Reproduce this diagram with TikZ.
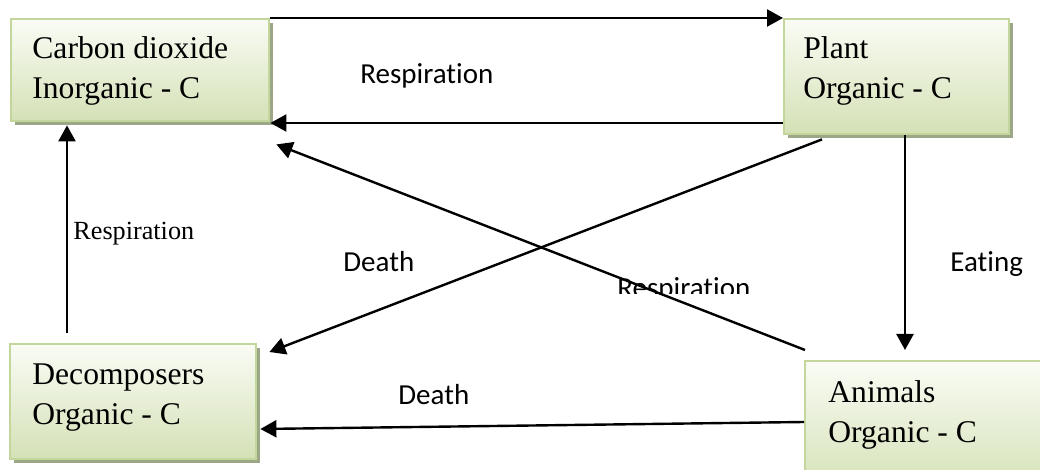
\documentclass[tikz,border=0pt]{standalone}
\usepackage{fontspec}
\setmainfont{Liberation Serif}
\newfontfamily\labelfont[Ligatures=NoCommon]{Carlito}
\usetikzlibrary{arrows.meta,shadows,calc}

\definecolor{boxtop}{HTML}{FAFCF5}
\definecolor{boxbottom}{HTML}{D4E1B6}
\definecolor{boxline}{HTML}{C3D69B}
\definecolor{boxshadow}{HTML}{9CA787}

\tikzset{
  box/.style={rectangle, draw=boxline, line width=1.2pt, inner sep=0pt,
    top color=boxtop, bottom color=boxbottom,
    drop shadow={shadow xshift=2pt, shadow yshift=-2pt, fill=boxshadow, opacity=1}},
  boxtext/.style={anchor=north west, inner sep=0pt, align=left,
    font=\fontsize{15.8}{20}\selectfont},
  flow/.style={line width=1.2pt, -{Triangle[length=8pt,width=8.5pt]}},
  tag/.style={anchor=base west, inner sep=0pt, font=\labelfont\fontsize{14.5}{17}\selectfont},
  serifTag/.style={anchor=base west, inner sep=0pt, font=\fontsize{13.1}{16}\selectfont}
}

\begin{document}
\begin{tikzpicture}[x=0.5pt,y=-0.5pt]
  \clip (0,0) rectangle (1040,470);
  \fill[white] (0,0) rectangle (1040,470);

  % the four carbon pools
  \node[box, anchor=north west, minimum width=129pt, minimum height=51pt] (co2) at (10,18) {};
  \node[box, anchor=north west, minimum width=112.5pt, minimum height=57.5pt] (plant) at (783,18) {};
  \node[box, anchor=north west, minimum width=123pt, minimum height=57.5pt] (dec) at (9,343) {};
  \node[box, anchor=north west, minimum width=130pt, minimum height=65pt] (anim) at (804,360) {};

  \node[boxtext] (co2t) at ($(co2.north west)+(22,18.4)$) {Carbon dioxide\\Inorganic - C};
  \node[boxtext] (plantt) at ($(plant.north west)+(20,18.4)$) {Plant\\Organic - C};
  \node[boxtext] (dect) at ($(dec.north west)+(23,20.4)$) {Decomposers\\Organic - C};
  \node[boxtext] (animt) at ($(anim.north west)+(24,20.4)$) {Animals\\Organic - C};

  % carbon flows
  \draw[flow] (co2.north east) -- (plant.north west);
  \draw[flow] (plant.west |- 0,123) -- (co2.east |- 0,123);
  \draw[flow] ($(plant.south west)+(39,4)$) -- ($(dec.north east)+(12,9)$);
  \draw[flow] ($(anim.north west)+(1,-10)$) -- ($(co2.south east)+(6,22)$);
  \draw[flow] (905,0 |- plant.south) -- ($(905,0 |- anim.north)+(0,-10)$);
  \draw[flow] ($(anim.north west)+(0,62)$) -- ($(dec.north east)+(3,86)$);
  \draw[flow] ($(dec.north west)+(58,-10)$) -- ($(co2.south west)+(57,3)$);

  % flow labels
  \node[tag] (lresp1) at (360,84) {Respiration};
  \node[serifTag] (lresp2) at (73,240) {Respiration};
  \node[tag] (ldeath1) at (343,272) {Death};
  \node[tag] (leat) at (950,272) {Eating};
  \node[tag] (ldeath2) at (398,405) {Death};
  \begin{scope}
    \clip (600,260) rectangle (780,294);
    \node[tag] (lresp3) at (617,298) {Respiration};
  \end{scope}
\end{tikzpicture}
\end{document}
